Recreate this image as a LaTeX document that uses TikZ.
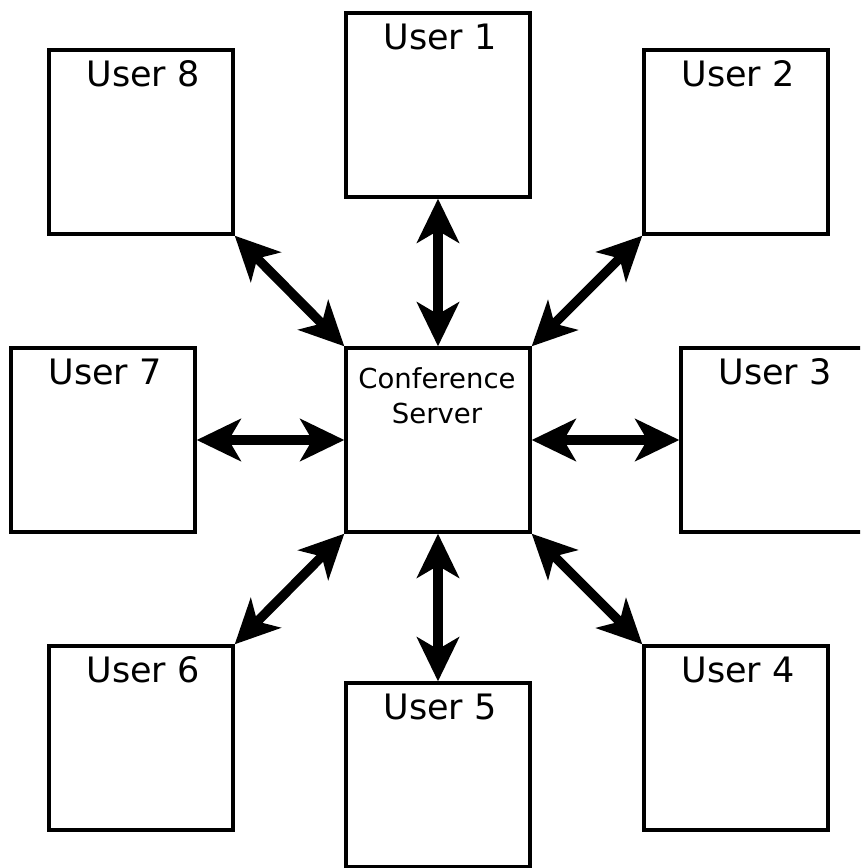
\documentclass[tikz,border=0pt]{standalone}
\usepackage{fontspec}
\setmainfont{DejaVu Sans}
\usetikzlibrary{arrows.meta,calc}
\begin{document}
\begin{tikzpicture}[x=1pt,y=-1pt,
  userbox/.style={draw,line width=3.4pt,minimum width=184pt,minimum height=184pt,inner sep=0pt,fill=white},
  utext/.style={anchor=base,inner sep=0pt,font=\fontsize{35}{40}\selectfont},
  conn/.style={line width=9.5pt,{Stealth[length=44pt,width=42pt,inset=12pt]}-{Stealth[length=44pt,width=42pt,inset=12pt]}}]
\useasboundingbox (0,0) rectangle (860,868);
\clip (0,0) rectangle (860,868);
\node[userbox] (server) at (438,440) {};
\node[userbox] (u1) at (438,105) {};
\node[userbox] (u2) at (736,142) {};
\node[userbox] (u3) at (773,440) {};
\node[userbox] (u4) at (736,738) {};
\node[userbox] (u5) at (438,775) {};
\node[userbox] (u6) at (141,738) {};
\node[userbox] (u7) at (103,440) {};
\node[userbox] (u8) at (141,142) {};
\node[utext] (t1) at (440,49) {User 1};
\node[utext] (t2) at (738,86) {User 2};
\node[utext] (t3) at (775,384) {User 3};
\node[utext] (t4) at (738,682) {User 4};
\node[utext] (t5) at (440,719) {User 5};
\node[utext] (t6) at (143,682) {User 6};
\node[utext] (t7) at (105,384) {User 7};
\node[utext] (t8) at (143,86) {User 8};
\node[anchor=base,inner sep=0pt,font=\fontsize{27.5}{35}\selectfont] (st) at (437,388) {Conference};
\node[anchor=base,inner sep=0pt,font=\fontsize{27.5}{35}\selectfont] (st2) at (437,423) {Server};
\draw[conn] (u1.south) -- (server.north);
\draw[conn] (u5.north) -- (server.south);
\draw[conn] (u7.east) -- (server.west);
\draw[conn] (u3.west) -- (server.east);
\draw[conn] (u8.south east) -- (server.north west);
\draw[conn] (u2.south west) -- (server.north east);
\draw[conn] (u6.north east) -- (server.south west);
\draw[conn] (u4.north west) -- (server.south east);
\end{tikzpicture}
\end{document}
